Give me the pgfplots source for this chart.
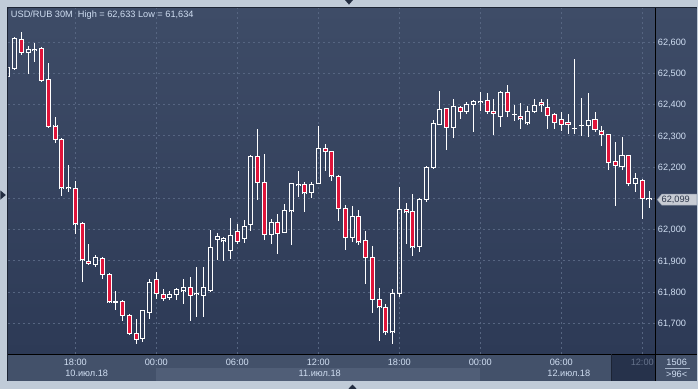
\documentclass[border=0pt]{standalone}
\usepackage{pgfplots}
\pgfplotsset{compat=1.18}
\usepackage{pgfplotstable}
\usepackage{fontspec}
\setmainfont{Liberation Sans}
\definecolor{outerbg}{RGB}{192,203,216}
\definecolor{framec}{RGB}{28,36,52}
\definecolor{plottop}{RGB}{62,76,103}
\definecolor{plotbot}{RGB}{45,58,86}
\definecolor{timerow}{RGB}{67,81,106}
\definecolor{dateband}{RGB}{80,94,119}
\definecolor{darkbox}{RGB}{38,50,75}
\definecolor{gridc}{RGB}{86,101,129}
\definecolor{candlered}{RGB}{224,20,58}
\definecolor{lbl}{RGB}{208,222,242}
\definecolor{greylbl}{RGB}{100,113,138}
\definecolor{tri}{RGB}{35,45,65}
\newcommand\lf{\fontsize{9.2bp}{11bp}\selectfont}

\pgfplotstableread{
i o h l c
-1 62.490 62.522 62.488 62.519
0 62.515 62.616 62.512 62.611
1 62.608 62.634 62.560 62.566
2 62.566 62.589 62.499 62.576
3 62.575 62.597 62.538 62.577
4 62.579 62.584 62.472 62.478
5 62.481 62.533 62.326 62.331
6 62.331 62.360 62.276 62.288
7 62.288 62.291 62.107 62.134
8 62.134 62.206 62.121 62.136
9 62.132 62.155 61.988 62.019
10 62.020 62.024 61.833 61.903
11 61.899 61.954 61.890 61.892
12 61.890 61.918 61.883 61.911
13 61.908 61.913 61.844 61.858
14 61.857 61.862 61.768 61.769
15 61.768 61.803 61.743 61.770
16 61.771 61.775 61.709 61.726
17 61.724 61.730 61.663 61.668
18 61.668 61.716 61.634 61.649
19 61.652 61.745 61.642 61.740
20 61.736 61.844 61.716 61.831
21 61.841 61.866 61.780 61.796
22 61.793 61.812 61.772 61.780
23 61.784 61.805 61.777 61.791
24 61.793 61.815 61.777 61.807
25 61.804 61.844 61.764 61.815
26 61.815 61.851 61.709 61.789
27 61.795 61.879 61.719 61.797
28 61.789 61.883 61.721 61.815
29 61.805 61.998 61.802 61.943
30 61.969 61.990 61.902 61.979
31 61.964 61.977 61.902 61.972
32 61.934 62.036 61.905 61.982
33 61.993 62.020 61.954 61.961
34 61.972 62.030 61.959 62.011
35 62.017 62.238 61.995 62.235
36 62.235 62.323 62.094 62.150
37 62.151 62.243 61.966 61.985
38 61.985 62.036 61.956 62.023
39 62.023 62.050 61.921 61.988
40 61.991 62.081 61.991 62.060
41 62.060 62.148 61.951 62.148
42 62.143 62.187 62.105 62.145
43 62.144 62.153 62.057 62.118
44 62.119 62.153 62.102 62.144
45 62.148 62.331 62.148 62.259
46 62.259 62.275 62.187 62.251
47 62.251 62.253 62.155 62.172
48 62.171 62.177 62.028 62.068
49 62.068 62.078 61.937 61.975
50 61.975 62.078 61.961 62.043
51 62.043 62.065 61.951 61.961
52 61.964 61.996 61.826 61.911
53 61.911 61.947 61.734 61.777
54 61.775 61.814 61.644 61.753
55 61.751 61.764 61.663 61.673
56 61.673 61.812 61.634 61.796
57 61.796 62.137 61.785 62.065
58 62.065 62.086 61.956 62.057
59 62.059 62.116 61.915 61.945
60 61.945 62.102 61.929 62.097
61 62.096 62.202 62.092 62.197
62 62.199 62.351 62.198 62.340
63 62.335 62.443 62.335 62.385
64 62.388 62.390 62.255 62.327
65 62.327 62.418 62.292 62.394
66 62.390 62.397 62.354 62.378
67 62.378 62.410 62.369 62.401
68 62.401 62.415 62.314 62.410
69 62.409 62.443 62.380 62.410
70 62.412 62.436 62.369 62.378
71 62.378 62.418 62.303 62.372
72 62.362 62.443 62.327 62.439
73 62.439 62.463 62.362 62.378
74 62.367 62.399 62.349 62.368
75 62.363 62.404 62.324 62.354
76 62.341 62.397 62.335 62.378
77 62.379 62.418 62.373 62.397
78 62.405 62.418 62.378 62.399
79 62.391 62.418 62.322 62.365
80 62.367 62.375 62.322 62.341
81 62.352 62.378 62.317 62.335
82 62.343 62.370 62.308 62.336
83 62.322 62.546 62.306 62.324
84 62.332 62.420 62.301 62.333
85 62.333 62.437 62.296 62.349
86 62.352 62.375 62.312 62.320
87 62.315 62.331 62.268 62.304
88 62.304 62.307 62.190 62.215
89 62.217 62.280 62.076 62.204
90 62.201 62.297 62.190 62.236
91 62.236 62.238 62.140 62.148
92 62.148 62.183 62.121 62.164
93 62.158 62.164 62.036 62.100
94 62.098 62.123 62.070 62.099
}\candles

\pgfplotsset{
  wickbar/.style={draw=none, mark=none,
    error bars/.cd, y dir=both, y explicit, error mark=none,
    error bar style={draw=white, solid, line width=1bp}},
  redbar/.style={draw=none, mark=none,
    error bars/.cd, y dir=both, y explicit, error mark=none,
    error bar style={draw=candlered, solid, line width=4bp}},
  edgev/.style={draw=none, mark=none,
    error bars/.cd, y dir=both, y explicit, error mark=none,
    error bar style={draw=white, solid, line width=1bp, line cap=rect}},
  edgeh/.style={draw=none, mark=none,
    error bars/.cd, x dir=both, x fixed=0.3, error mark=none,
    error bar style={draw=white, solid, line width=1bp, line cap=rect}},
}

\begin{document}
\begin{tikzpicture}
\useasboundingbox (0,0) rectangle (698bp,-389bp);
\begin{scope}[x=1bp,y=-1bp]
  \fill[outerbg] (0,0) rectangle (698,389);
  \fill[framec] (7.3,7.3) rectangle (697.3,381.3);
  \shade[top color=plottop, bottom color=plotbot] (8.3,8.3) rectangle (696.5,354.3);
  \fill[timerow] (8.3,354.3) rectangle (696.5,380.5);
  \fill[dateband] (156.3,367.5) rectangle (480.3,380.5);
  \fill[darkbox] (611.7,354.3) rectangle (655.7,380.5);
  \draw[black, line width=1bp] (8.3,354.3) -- (696.5,354.3);
  \draw[black, line width=1bp] (655.7,8.3) -- (655.7,380.5);
  \draw[framec, line width=0.8bp] (611.7,354.3) -- (611.7,380.5);
  % triangles
  \fill[tri] (345,0) -- (353,0) -- (349,4.6) -- cycle;
  \fill[tri] (348.3,389) -- (356.7,389) -- (352.5,384.6) -- cycle;
  \fill[tri] (0.5,190.5) -- (0.5,199.5) -- (5.8,195) -- cycle;
  % texts
  \node[anchor=base west, inner sep=0pt, text=lbl, font=\lf] at (10.8,17.8) {USD/RUB 30M\ \ High = 62,633 Low = 61,634};
  \node[anchor=base, inner sep=0pt, text=lbl, font=\lf] at (86.7,376.6) {10.июл.18};
  \node[anchor=base, inner sep=0pt, text=lbl, font=\lf] at (319.7,376.6) {11.июл.18};
  \node[anchor=base, inner sep=0pt, text=lbl, font=\lf] at (568.8,376.6) {12.июл.18};
  \node[anchor=base, inner sep=0pt, text=lbl, font=\lf] at (676.7,365.6) {1506};
  \draw[lbl!70!timerow, line width=0.8bp] (665,368.6) -- (690,368.6);
  \node[anchor=base, inner sep=0pt, text=lbl, font=\lf] at (676.7,377.6) {>96<};
\end{scope}
\begin{axis}[
  at={(8.3bp,-354.3bp)}, anchor=south west,
  scale only axis, width=647.4bp, height=346bp,
  xmin=-0.926, xmax=94.99, ymin=61.6013, ymax=62.7076,
  axis line style={draw=none},
  major tick length=0pt,
  grid=major,
  major grid style={gridc, line width=0.9bp, dash pattern=on 2bp off 3bp},
  xtick={9,21,33,45,57,69,81,93},
  xticklabels={18:00,00:00,06:00,12:00,18:00,00:00,06:00,{\textcolor{greylbl}{12:00}}},
  ytick={61.7,61.8,61.9,62.0,62.1,62.2,62.3,62.4,62.5,62.6},
  yticklabels={{61,700},{61,800},{61,900},{62,000},{},{62,200},{62,300},{62,400},{62,500},{62,600}},
  yticklabel pos=right,
  ticklabel style={font=\lf, text=lbl, inner sep=0pt},
  xticklabel style={anchor=base, yshift=-11.6bp},
  yticklabel style={anchor=base west, xshift=2bp, yshift=-3.3bp},
  clip=true,
]
% wicks (upper and lower parts)
\addplot[wickbar] table[x=i,
  y expr={(\thisrow{h}+max(\thisrow{o},\thisrow{c}))/2},
  y error expr={(\thisrow{h}-max(\thisrow{o},\thisrow{c}))/2}] {\candles};
\addplot[wickbar] table[x=i,
  y expr={(\thisrow{l}+min(\thisrow{o},\thisrow{c}))/2},
  y error expr={(min(\thisrow{o},\thisrow{c})-\thisrow{l})/2}] {\candles};
% red bodies
\addplot[redbar] table[x=i,
  y expr={(\thisrow{o}+\thisrow{c})/2},
  y error expr={\thisrow{c}<\thisrow{o} ? (\thisrow{o}-\thisrow{c})/2 : 0}] {\candles};
% body outlines
\addplot[edgev] table[x expr={\thisrow{i}-0.3},
  y expr={(\thisrow{o}+\thisrow{c})/2},
  y error expr={abs(\thisrow{o}-\thisrow{c})/2}] {\candles};
\addplot[edgev] table[x expr={\thisrow{i}+0.3},
  y expr={(\thisrow{o}+\thisrow{c})/2},
  y error expr={abs(\thisrow{o}-\thisrow{c})/2}] {\candles};
\addplot[edgeh] table[x=i, y=o] {\candles};
\addplot[edgeh] table[x=i, y=c] {\candles};
\end{axis}
\begin{scope}[x=1bp,y=-1bp]
  \filldraw[fill={rgb,255:red,200;green,204;blue,212}, draw={rgb,255:red,150;green,160;blue,176}, line width=0.5bp]
    (657.3,199.6) -- (661.8,194.2) -- (696.8,194.2) -- (696.8,205.2) -- (661.8,205.2) -- cycle;
  \node[anchor=base west, inner sep=0pt, text={rgb,255:red,45;green,55;blue,75}, font=\lf] at (661.5,202.9) {62,099};
\end{scope}
\end{tikzpicture}
\end{document}
